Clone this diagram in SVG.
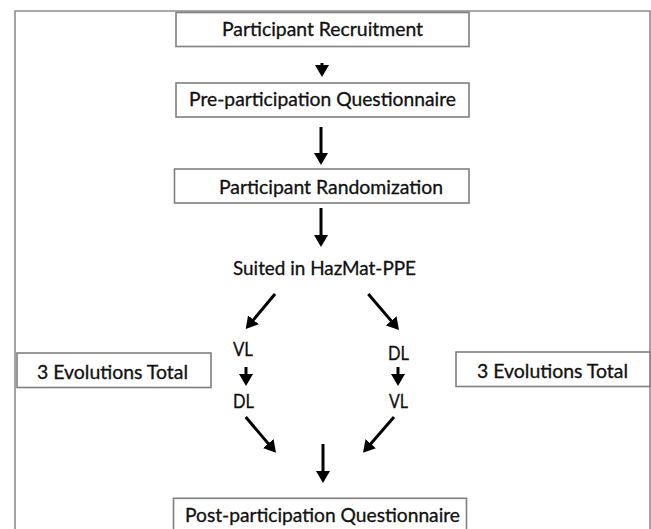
<svg xmlns="http://www.w3.org/2000/svg" width="651" height="529" viewBox="0 0 651 529">
<style>
  .box { fill: #ffffff; stroke: #7f7f7f; stroke-width: 1.6; }
  .frame { fill: none; stroke: #8c8c8c; stroke-width: 1.6; }
  .lbl { font-family: Lato, "Open Sans", "Liberation Sans", sans-serif; font-size: 18.5px; fill: #111111; stroke: #111111; stroke-width: 0.3; }
  .arr { stroke: #000000; stroke-width: 3; fill: none; marker-end: url(#ah); }
</style>
<defs>
  <marker id="ah" markerUnits="userSpaceOnUse" markerWidth="13" markerHeight="15" refX="6" refY="7" orient="auto" viewBox="0 0 13 15">
    <path d="M0,0 L12,7 L0,14 z" fill="#000000"/>
  </marker>
</defs>
<rect width="651" height="529" fill="#ffffff"/>
<path class="frame" d="M15,540 V11 H650 V540"/>

<g id="recruitment">
  <rect class="box" x="176" y="12.5" width="293" height="34"/>
  <text class="lbl" x="222" y="36" textLength="201" lengthAdjust="spacingAndGlyphs">Participant Recruitment</text>
</g>
<g id="pre-questionnaire">
  <rect class="box" x="176" y="83" width="293" height="34"/>
  <text class="lbl" x="189" y="106" textLength="267" lengthAdjust="spacingAndGlyphs">Pre-participation Questionnaire</text>
</g>
<g id="randomization">
  <rect class="box" x="174.5" y="169" width="294.5" height="34"/>
  <text class="lbl" x="219" y="194" textLength="224" lengthAdjust="spacingAndGlyphs">Participant Randomization</text>
</g>
<g id="suited">
  <text class="lbl" x="233" y="275" textLength="183" lengthAdjust="spacingAndGlyphs">Suited in HazMat-PPE</text>
</g>
<g id="left-vl">
  <text class="lbl" x="233" y="356" textLength="20" lengthAdjust="spacingAndGlyphs">VL</text>
</g>
<g id="left-dl">
  <text class="lbl" x="233" y="408" textLength="21" lengthAdjust="spacingAndGlyphs">DL</text>
</g>
<g id="right-dl">
  <text class="lbl" x="388" y="360" textLength="21" lengthAdjust="spacingAndGlyphs">DL</text>
</g>
<g id="right-vl">
  <text class="lbl" x="389" y="408" textLength="19" lengthAdjust="spacingAndGlyphs">VL</text>
</g>
<g id="left-evolutions">
  <rect class="box" x="17" y="353" width="194" height="34.5"/>
  <text class="lbl" x="37" y="379" textLength="151" lengthAdjust="spacingAndGlyphs">3 Evolutions Total</text>
</g>
<g id="right-evolutions">
  <rect class="box" x="456" y="352" width="194" height="34.5"/>
  <text class="lbl" x="477" y="378" textLength="151" lengthAdjust="spacingAndGlyphs">3 Evolutions Total</text>
</g>
<g id="post-questionnaire">
  <rect class="box" x="173.5" y="498.3" width="293" height="40"/>
  <text class="lbl" x="185" y="521.5" textLength="275" lengthAdjust="spacingAndGlyphs">Post-participation Questionnaire</text>
</g>

<g id="connectors">
  <line class="arr" x1="322" y1="63" x2="322" y2="71"/>
  <line class="arr" x1="321" y1="127" x2="321" y2="159"/>
  <line class="arr" x1="321" y1="208" x2="321" y2="241"/>
  <line class="arr" x1="275" y1="294" x2="249.6" y2="324.4"/>
  <line class="arr" x1="368.3" y1="294" x2="395.1" y2="325.4"/>
  <line class="arr" x1="246" y1="367" x2="246" y2="380"/>
  <line class="arr" x1="398" y1="367" x2="398" y2="380"/>
  <line class="arr" x1="245.7" y1="417" x2="272.1" y2="448.1"/>
  <line class="arr" x1="394" y1="417" x2="366.9" y2="448.2"/>
  <line class="arr" x1="323" y1="444" x2="323" y2="477"/>
</g>
</svg>
